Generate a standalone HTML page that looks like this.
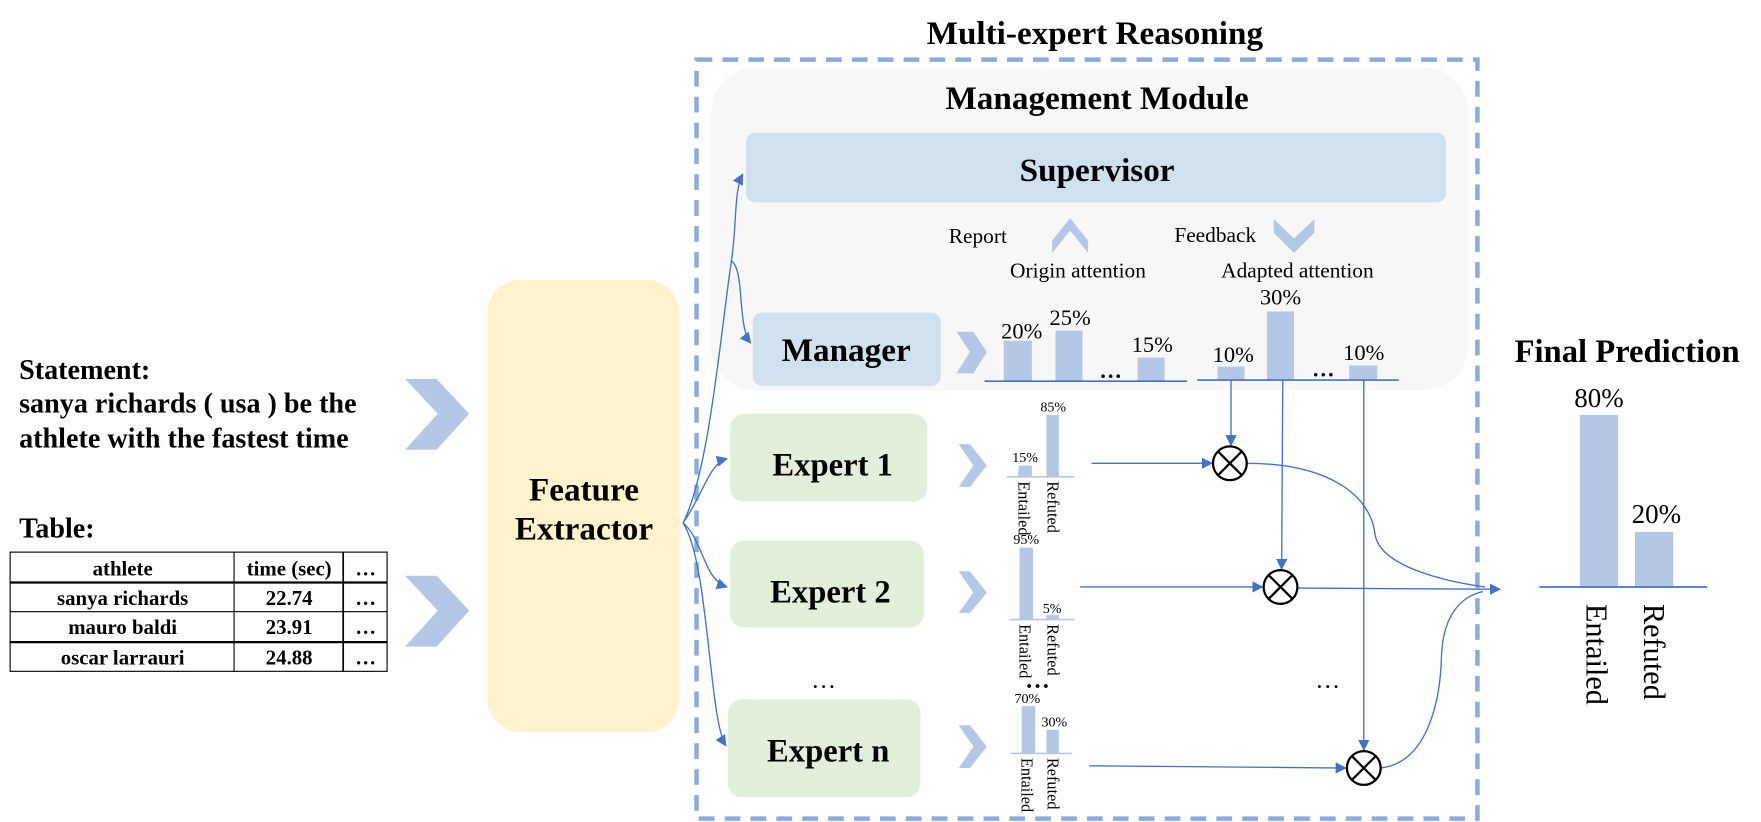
<!DOCTYPE html>
<html><head><meta charset="utf-8"><style>
html,body{margin:0;padding:0;background:#fff;}
svg{display:block;}
text{font-family:"Liberation Serif",serif;}
</style></head><body>
<svg width="1761" height="822" viewBox="0 0 1565 731" preserveAspectRatio="none" xmlns="http://www.w3.org/2000/svg">
<defs>
<marker id="a" markerWidth="10" markerHeight="10" refX="9" refY="5" orient="auto" markerUnits="userSpaceOnUse"><path d="M0,0 L10,5 L0,10 z" fill="#4472c4"/></marker>
</defs>
<text x="973" y="39" font-size="29.5" font-weight="bold" text-anchor="middle">Multi-expert Reasoning</text>
<rect x="619" y="53" width="694" height="675" fill="none" stroke="#8eaadb" stroke-width="4" stroke-dasharray="14,9"/>
<rect x="632" y="60" width="673" height="287" rx="40" fill="#f7f7f7"/>
<text x="975" y="97" font-size="29.5" font-weight="bold" text-anchor="middle">Management Module</text>
<rect x="663" y="118" width="622" height="62" rx="8" fill="#cfe0ef"/>
<text x="975" y="161" font-size="29.5" font-weight="bold" text-anchor="middle">Supervisor</text>
<text x="869" y="216" font-size="19" text-anchor="middle">Report</text>
<path d="M935,225 L951,205 L967,225 L967,214 L951,194 L935,214 z" fill="#b4c7e7"/>
<text x="1080" y="215" font-size="19" text-anchor="middle">Feedback</text>
<path d="M1132,195 L1150,212 L1168,195 L1168,207 L1150,225 L1132,207 z" fill="#b4c7e7"/>
<text x="958" y="247" font-size="19" text-anchor="middle">Origin attention</text>
<text x="1153" y="247" font-size="19" text-anchor="middle">Adapted attention</text>
<rect x="669" y="278" width="167" height="65" rx="8" fill="#cfe0ef"/>
<text x="752" y="321" font-size="29.5" font-weight="bold" text-anchor="middle">Manager</text>
<path d="M850,295 L865,295 L877,313 L865,332 L850,332 L862,313 z" fill="#b4c7e7"/>
<rect x="892" y="303" width="25" height="36" fill="#b4c7e7"/>
<rect x="938" y="294" width="24" height="45" fill="#b4c7e7"/>
<rect x="1011" y="318" width="24" height="21" fill="#b4c7e7"/>
<line x1="875" y1="339" x2="1055" y2="339" stroke="#4472c4" stroke-width="1.5"/>
<text x="908" y="301" font-size="20" text-anchor="middle">20%</text>
<text x="951" y="289" font-size="20" text-anchor="middle">25%</text>
<text x="1024" y="313" font-size="20" text-anchor="middle">15%</text>
<text x="987" y="336" font-size="20" font-weight="bold" text-anchor="middle">…</text>
<rect x="1082" y="326" width="24" height="12" fill="#b4c7e7"/>
<rect x="1126" y="277" width="24" height="61" fill="#b4c7e7"/>
<rect x="1199" y="325" width="25" height="13" fill="#b4c7e7"/>
<line x1="1064" y1="338" x2="1243" y2="338" stroke="#4472c4" stroke-width="1.5"/>
<text x="1096" y="322" font-size="20" text-anchor="middle">10%</text>
<text x="1138" y="271" font-size="20" text-anchor="middle">30%</text>
<text x="1212" y="320" font-size="20" text-anchor="middle">10%</text>
<text x="1176" y="335" font-size="20" font-weight="bold" text-anchor="middle">…</text>
<text x="17" y="337" font-size="25" font-weight="bold">Statement:</text>
<text x="17" y="367" font-size="25" font-weight="bold">sanya richards ( usa ) be the</text>
<text x="17" y="398" font-size="25" font-weight="bold">athlete with the fastest time</text>
<text x="17" y="478" font-size="25" font-weight="bold">Table:</text>
<path d="M360,337 L388,337 L417,368 L388,400 L360,400 L389,368 z" fill="#b4c7e7"/>
<path d="M360,512 L388,512 L417,543 L388,575 L360,575 L389,543 z" fill="#b4c7e7"/>
<g font-size="18.5" font-weight="bold" text-anchor="middle">
<rect x="9" y="491" width="335" height="106" fill="#fff" stroke="#000" stroke-width="1"/>
<line x1="9" y1="518" x2="344" y2="518" stroke="#000" stroke-width="2"/>
<line x1="9" y1="544" x2="344" y2="544" stroke="#000" stroke-width="1"/>
<line x1="9" y1="571" x2="344" y2="571" stroke="#000" stroke-width="2"/>
<line x1="208" y1="491" x2="208" y2="597" stroke="#000"/>
<line x1="305" y1="491" x2="305" y2="597" stroke="#000" stroke-width="1.5"/>
<text x="109" y="512">athlete</text><text x="257" y="512">time (sec)</text><text x="325" y="512">…</text>
<text x="109" y="538">sanya richards</text><text x="257" y="538">22.74</text><text x="325" y="538">…</text>
<text x="109" y="564">mauro baldi</text><text x="257" y="564">23.91</text><text x="325" y="564">…</text>
<text x="109" y="591">oscar larrauri</text><text x="257" y="591">24.88</text><text x="325" y="591">…</text>
</g>
<rect x="433" y="249" width="171" height="402" rx="30" fill="#fff2cc"/>
<text x="519" y="445" font-size="29.5" font-weight="bold" text-anchor="middle">Feature</text>
<text x="519" y="480" font-size="29.5" font-weight="bold" text-anchor="middle">Extractor</text>
<g fill="none" stroke="#4472c4" stroke-width="1.2">
<path d="M607,465 C630,420 640,300 650,232 C655,200 652,170 660,155" marker-end="url(#a)"/>
<path d="M650,232 C662,240 655,290 667,305" marker-end="url(#a)"/>
<path d="M607,465 C625,440 630,412 646,408" marker-end="url(#a)"/>
<path d="M607,465 C625,480 625,515 646,522" marker-end="url(#a)"/>
<path d="M607,465 C630,500 630,640 645,663" marker-end="url(#a)"/>
</g>
<rect x="649" y="368" width="175" height="78" rx="12" fill="#e2efda"/>
<text x="740" y="423" font-size="29" font-weight="bold" text-anchor="middle">Expert 1</text>
<rect x="649" y="481" width="172" height="77" rx="12" fill="#e2efda"/>
<text x="738" y="536" font-size="29" font-weight="bold" text-anchor="middle">Expert 2</text>
<rect x="647" y="622" width="171" height="87" rx="12" fill="#e2efda"/>
<text x="736" y="677" font-size="29" font-weight="bold" text-anchor="middle">Expert n</text>
<text x="732" y="612" font-size="22" text-anchor="middle">…</text>
<text x="1180" y="612" font-size="22" text-anchor="middle">…</text>
<text x="922" y="612" font-size="22" font-weight="bold" text-anchor="middle">…</text>
<path d="M852,395 L862,395 L877,414 L862,433 L852,433 L865,414 z" fill="#b4c7e7"/>
<path d="M852,508 L862,508 L877,527 L862,545 L852,545 L865,527 z" fill="#b4c7e7"/>
<path d="M852,645 L862,645 L877,664 L862,683 L852,683 L865,664 z" fill="#b4c7e7"/>
<g font-size="12.5" text-anchor="middle">
<rect x="905" y="414" width="12" height="10" fill="#b4c7e7"/><rect x="930" y="369" width="11" height="55" fill="#b4c7e7"/>
<line x1="895" y1="424" x2="955" y2="424" stroke="#b4c7e7" stroke-width="1.5"/>
<text x="911" y="411">15%</text><text x="936" y="366">85%</text>
<text transform="translate(905,428) rotate(90)" text-anchor="start" font-size="14.5">Entailed</text>
<text transform="translate(931,428) rotate(90)" text-anchor="start" font-size="14.5">Refuted</text>
<rect x="906" y="487" width="12" height="64" fill="#b4c7e7"/><rect x="930" y="547" width="11" height="4" fill="#b4c7e7"/>
<line x1="897" y1="551" x2="955" y2="551" stroke="#b4c7e7" stroke-width="1.5"/>
<text x="912" y="484">95%</text><text x="935" y="545">5%</text>
<text transform="translate(906,555) rotate(90)" text-anchor="start" font-size="14.5">Entailed</text>
<text transform="translate(931,555) rotate(90)" text-anchor="start" font-size="14.5">Refuted</text>
<rect x="908" y="628" width="12" height="42" fill="#b4c7e7"/><rect x="930" y="649" width="11" height="21" fill="#b4c7e7"/>
<line x1="898" y1="670" x2="953" y2="670" stroke="#b4c7e7" stroke-width="1.5"/>
<text x="913" y="625">70%</text><text x="937" y="646">30%</text>
<text transform="translate(908,674) rotate(90)" text-anchor="start" font-size="14.5">Entailed</text>
<text transform="translate(931,674) rotate(90)" text-anchor="start" font-size="14.5">Refuted</text>
</g>
<g fill="none" stroke="#4472c4" stroke-width="1.2">
<line x1="970" y1="412" x2="1077" y2="412" marker-end="url(#a)"/>
<line x1="960" y1="522" x2="1122" y2="522" marker-end="url(#a)"/>
<line x1="968" y1="681" x2="1196" y2="683" marker-end="url(#a)"/>
<line x1="1094" y1="338" x2="1094" y2="396" marker-end="url(#a)"/>
<line x1="1140" y1="338" x2="1139" y2="506" marker-end="url(#a)"/>
<line x1="1212" y1="338" x2="1212" y2="667" marker-end="url(#a)"/>
<line x1="1153" y1="523" x2="1333" y2="524" marker-end="url(#a)"/>
<path d="M1108,412 C1180,412 1218,440 1222,475 C1226,505 1290,518 1320,522"/>
<path d="M1227,683 C1270,678 1280,620 1281,585 C1282,545 1300,530 1318,526"/>
</g>
<g fill="#fff" stroke="#000" stroke-width="2">
<circle cx="1093" cy="412" r="15"/><circle cx="1138" cy="522" r="15"/><circle cx="1212" cy="683" r="15"/>
<path d="M1082,401 L1104,423 M1104,401 L1082,423 M1127,511 L1149,533 M1149,511 L1127,533 M1201,672 L1223,694 M1223,672 L1201,694"/>
</g>
<text x="1446" y="322" font-size="29" font-weight="bold" text-anchor="middle">Final Prediction</text>
<rect x="1404" y="369" width="34" height="153" fill="#b4c7e7"/>
<rect x="1453" y="473" width="34" height="49" fill="#b4c7e7"/>
<line x1="1368" y1="522" x2="1517" y2="522" stroke="#4472c4" stroke-width="1.5"/>
<text x="1421" y="362" font-size="24" text-anchor="middle">80%</text>
<text x="1472" y="465" font-size="24" text-anchor="middle">20%</text>
<text transform="translate(1410,537) rotate(90)" font-size="27">Entailed</text>
<text transform="translate(1461,537) rotate(90)" font-size="27">Refuted</text>
</svg>
</body></html>
